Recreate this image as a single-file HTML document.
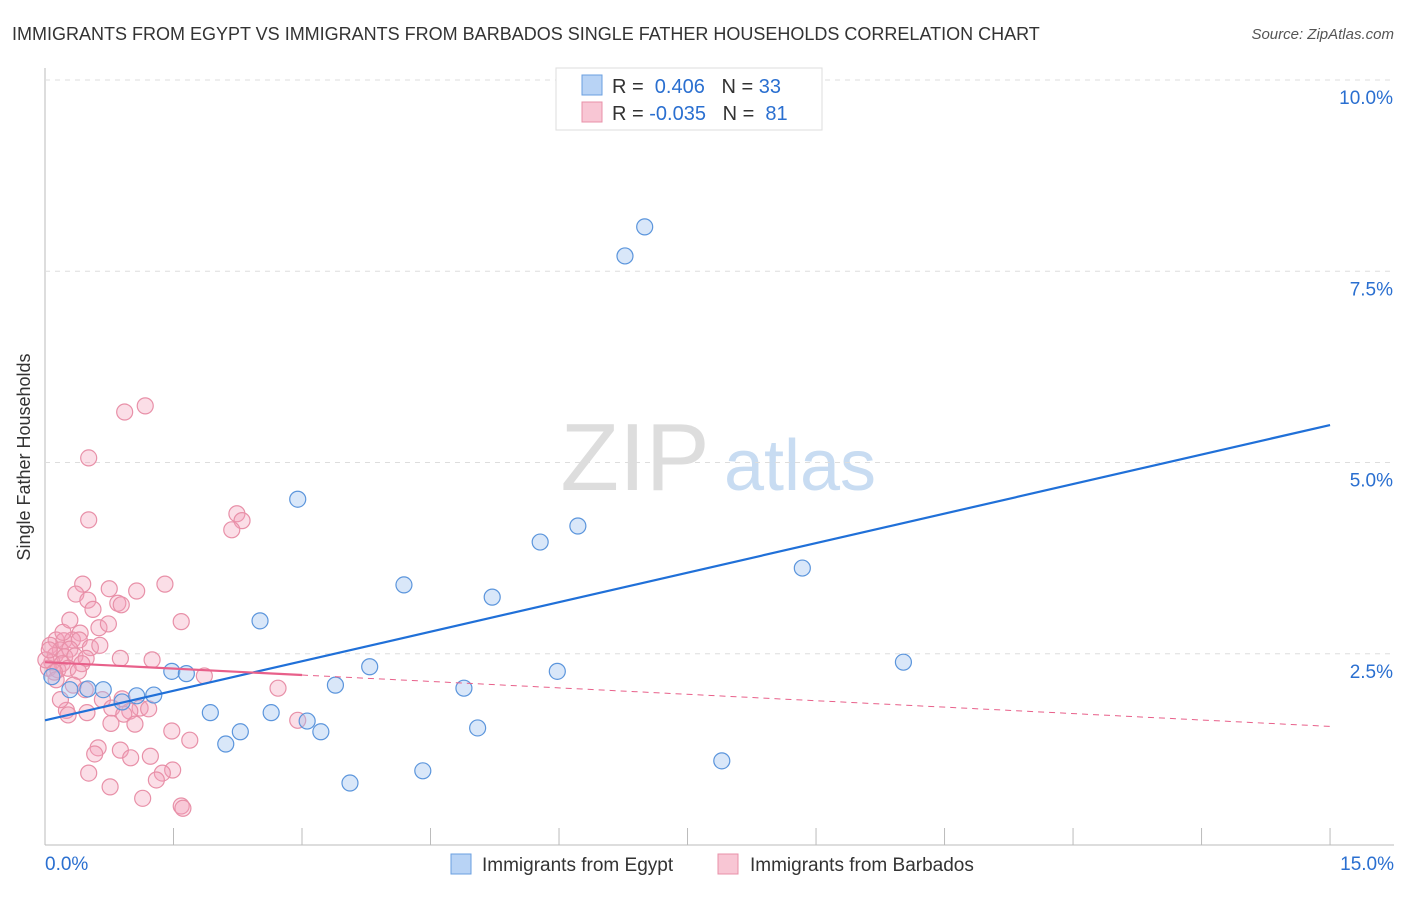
<!DOCTYPE html>
<html><head><meta charset="utf-8"><style>
body{margin:0;background:#fff;font-family:"Liberation Sans",sans-serif;}
svg text{font-family:"Liberation Sans",sans-serif;}
</style></head><body>
<svg id="c" width="1406" height="892">
<text x="12" y="40" font-size="18" fill="#333">IMMIGRANTS FROM EGYPT VS IMMIGRANTS FROM BARBADOS SINGLE FATHER HOUSEHOLDS CORRELATION CHART</text>
<text x="1394" y="39" font-size="15" fill="#555" text-anchor="end" font-style="italic">Source: ZipAtlas.com</text>
<text x="30" y="457" font-size="18" fill="#333" text-anchor="middle" transform="rotate(-90 30 457)">Single Father Households</text>
<g><text x="635" y="490" font-size="96" fill="#ddd" text-anchor="middle" font-family="Liberation Serif">ZIP</text><text x="800" y="490" font-size="72" fill="#c8dcf2" text-anchor="middle">atlas</text></g>
<g id="grid"></g><g id="pts"></g><g id="lines"></g>
<g>
<rect x="556" y="68" width="266" height="62" fill="#fff" stroke="#ddd"/>
<rect x="582" y="75" width="20" height="20" fill="#b8d3f5" stroke="#6a9fe0"/>
<rect x="582" y="102" width="20" height="20" fill="#f8c6d4" stroke="#e890a8"/>
<text x="612" y="93" font-size="20" fill="#333">R = <tspan fill="#2a6fd0">&#160;0.406</tspan>&#160;&#160;&#160;N = <tspan fill="#2a6fd0">33</tspan></text>
<text x="612" y="120" font-size="20" fill="#333">R = <tspan fill="#2a6fd0">-0.035</tspan>&#160;&#160;&#160;N = <tspan fill="#2a6fd0">&#160;81</tspan></text>
</g>
<g>
<rect x="451" y="854" width="20" height="20" fill="#b8d3f5" stroke="#6a9fe0"/>
<text x="482" y="871" font-size="19" fill="#333">Immigrants from Egypt</text>
<rect x="718" y="854" width="20" height="20" fill="#f8c6d4" stroke="#e890a8"/>
<text x="750" y="871" font-size="19" fill="#333">Immigrants from Barbados</text>
</g>
</svg>
<script>
const yTicks=[2.5,5.0,7.5,10.0];
const xTickLabels=["0.0%","15.0%"];
const egyptX=[7.00,6.77,2.95,6.22,5.78,8.84,4.19,5.22,2.51,10.02,5.98,3.79,1.48,1.65,3.39,4.89,0.29,0.50,0.68,1.07,1.27,0.90,1.93,2.64,3.06,3.22,2.28,2.11,5.05,4.41,3.56,7.90,0.08];
const egyptY=[8.08,7.70,4.52,4.17,3.96,3.62,3.40,3.24,2.93,2.39,2.27,2.33,2.27,2.24,2.09,2.05,2.03,2.04,2.03,1.95,1.96,1.87,1.73,1.73,1.62,1.48,1.48,1.32,1.53,0.97,0.81,1.10,2.20];
const barbX=[1.17,0.93,0.51,0.51,2.24,2.30,2.18,0.44,1.40,0.75,1.07,0.36,0.50,0.85,0.89,0.56,1.59,0.63,0.41,0.13,0.22,0.32,0.40,0.06,0.18,0.29,0.53,0.64,0.12,0.23,0.35,0.48,0.08,0.20,0.43,0.88,1.25,0.04,0.15,0.27,0.39,1.86,2.72,0.33,0.13,0.67,0.90,0.78,1.11,0.99,0.25,0.27,0.49,0.92,1.21,1.48,1.69,0.77,1.05,0.62,0.58,0.88,1.23,1.00,1.49,1.37,0.51,1.30,0.76,1.14,1.59,1.61,2.95,0.11,0.01,0.21,0.74,0.29,0.47,0.18,0.05];
const barbY=[5.74,5.66,5.06,4.25,4.33,4.24,4.12,3.41,3.41,3.35,3.32,3.28,3.20,3.16,3.14,3.08,2.92,2.84,2.77,2.68,2.67,2.68,2.68,2.61,2.55,2.56,2.58,2.61,2.48,2.46,2.47,2.44,2.39,2.37,2.37,2.44,2.42,2.31,2.29,2.31,2.27,2.21,2.05,2.09,2.16,1.90,1.91,1.79,1.79,1.75,1.76,1.70,1.73,1.71,1.78,1.49,1.37,1.59,1.58,1.27,1.19,1.24,1.16,1.14,0.98,0.94,0.94,0.85,0.76,0.61,0.51,0.48,1.63,2.26,2.42,2.78,2.89,2.94,2.03,1.90,2.55];
const egyptTrend=[1.63,5.49];
const barbTrend=[2.39,1.55];
const X=v=>45+v*85.67, Y=v=>845-v*76.5;
const NS="http://www.w3.org/2000/svg";
function mk(t,a,p){const e=document.createElementNS(NS,t);for(const k in a)e.setAttribute(k,a[k]);p.appendChild(e);return e;}
const g=document.getElementById('grid');
let ax=mk('line',{x1:45,y1:68,x2:45,y2:845,stroke:'#bbb'},g);


let bx=mk('line',{x1:45,y1:845,x2:1394,y2:845,stroke:'#bbb'},g);


for(let i=0;i<=10;i++){let t=mk('line',{x1:X(i*1.5),y1:828,x2:X(i*1.5),y2:845,stroke:'#bbb'},g);

}
yTicks.forEach(v=>{let l=mk('line',{x1:45,y1:Y(v),x2:1394,y2:Y(v),stroke:'#ddd','stroke-dasharray':'5,5'},g);


let t=mk('text',{x:1393,y:Y(v)+24,'font-size':19,fill:'#2a6fd0','text-anchor':'end'},g);t.textContent=v.toFixed(1)+'%';

});
[[0,'start',45],[15,'end',1394]].forEach((d,i)=>{let t=mk('text',{x:d[2],y:870,'font-size':19,fill:'#2a6fd0','text-anchor':d[1]},g);t.textContent=xTickLabels[i];

});
const P=document.getElementById('pts');
barbX.forEach((x,i)=>{let c=mk('circle',{cx:X(x),cy:Y(barbY[i]),r:8,fill:'rgba(244,160,185,0.35)',stroke:'#e890a8','stroke-width':1.2},P);

});
egyptX.forEach((x,i)=>{let c=mk('circle',{cx:X(x),cy:Y(egyptY[i]),r:8,fill:'rgba(160,195,240,0.4)',stroke:'#5b95dc','stroke-width':1.2},P);

});
const L=document.getElementById('lines');
let e=mk('line',{x1:X(0),y1:Y(egyptTrend[0]),x2:X(15),y2:Y(egyptTrend[1]),stroke:'#2070d8','stroke-width':2.2},L);


const bAt=v=>barbTrend[0]+(barbTrend[1]-barbTrend[0])*v/15;
let b1=mk('line',{x1:X(0),y1:Y(bAt(0)),x2:X(3),y2:Y(bAt(3)),stroke:'#e8608a','stroke-width':2.2},L);


let b2=mk('line',{x1:X(3),y1:Y(bAt(3)),x2:X(15),y2:Y(bAt(15)),stroke:'#e8608a','stroke-width':1,'stroke-dasharray':'6,5'},L);


</script>
</body></html>
